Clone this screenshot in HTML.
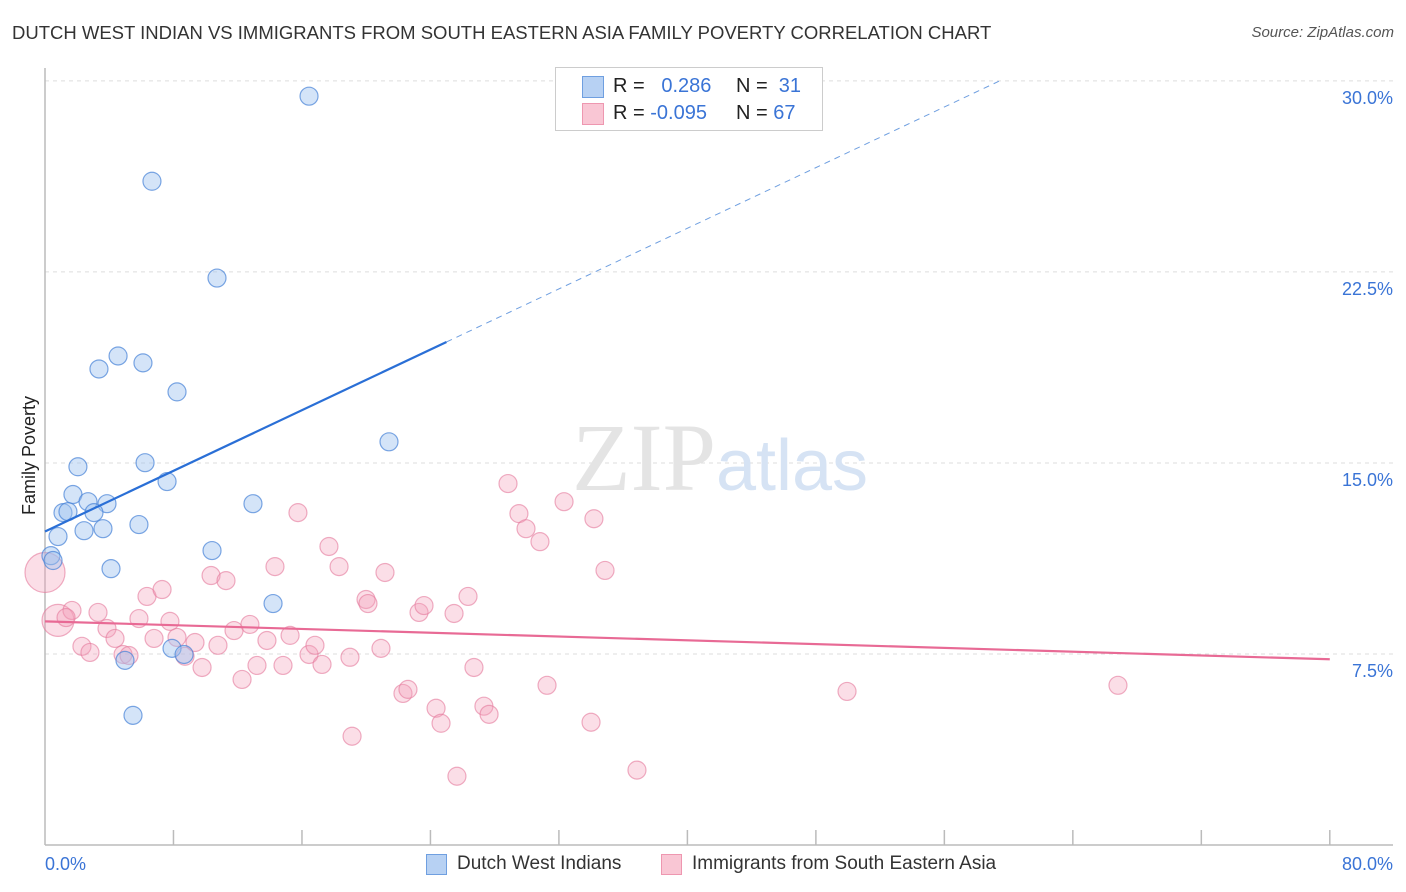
<!DOCTYPE html>
<html><head><meta charset="utf-8">
<style>
body{margin:0;background:#fff;font-family:"Liberation Sans",sans-serif;}
#wrap{position:relative;width:1406px;height:892px;overflow:hidden;}
.t{position:absolute;white-space:nowrap;}
</style></head><body>
<div id="wrap">
<div class="t" style="left:12px;top:22px;font-size:18.5px;color:#333;">DUTCH WEST INDIAN VS IMMIGRANTS FROM SOUTH EASTERN ASIA FAMILY POVERTY CORRELATION CHART</div>
<div class="t" style="right:12px;top:24px;font-size:15px;color:#555;font-style:italic;">Source: ZipAtlas.com</div>
<div class="t" style="left:-30px;top:445px;font-size:18px;color:#222;transform:rotate(-90deg);">Family Poverty</div>
<svg id="svg" width="1406" height="892" style="position:absolute;left:0;top:0"></svg>
<div style="position:absolute;left:555px;top:67px;width:266px;height:62px;border:1px solid #ccc;background:#fff;">
  <div style="position:absolute;left:26px;top:8px;width:20px;height:20px;background:#b7d1f3;border:1px solid #6f9fe0;"></div>
  <div style="position:absolute;left:26px;top:35px;width:20px;height:20px;background:#f9c6d4;border:1px solid #ee97b0;"></div>
  <div class="t" style="left:57px;top:7px;font-size:20px;color:#222;">R = &nbsp;&nbsp;<span style="color:#3a74d6">0.286</span></div>
  <div class="t" style="left:57px;top:34px;font-size:20px;color:#222;">R = <span style="color:#3a74d6">-0.095</span></div>
  <div class="t" style="left:180px;top:7px;font-size:20px;color:#222;">N = &nbsp;<span style="color:#3a74d6">31</span></div>
  <div class="t" style="left:180px;top:34px;font-size:20px;color:#222;">N = <span style="color:#3a74d6">67</span></div>
</div>
<div style="position:absolute;left:426px;top:854px;width:19px;height:19px;background:#b7d1f3;border:1px solid #6f9fe0;"></div>
<div class="t" style="left:457px;top:853px;font-size:19px;color:#333;">Dutch West Indians</div>
<div style="position:absolute;left:661px;top:854px;width:19px;height:19px;background:#f9c6d4;border:1px solid #ee97b0;"></div>
<div class="t" style="left:692px;top:853px;font-size:19px;color:#333;">Immigrants from South Eastern Asia</div>
</div>
<script>
const xTickLabels=["0.0%","80.0%"];
const yTicks=[7.5,15,22.5,30];
const yTickLabels=["7.5%","15.0%","22.5%","30.0%"];
const blueX=[16.44,6.66,10.71,4.55,3.36,6.10,8.22,21.42,2.05,6.23,7.60,1.74,2.68,3.86,12.95,1.12,1.43,3.05,5.85,2.43,3.61,0.81,0.37,0.50,10.40,4.11,14.20,7.91,8.66,4.98,5.48];
const blueY=[29.40,26.06,22.26,19.20,18.69,18.93,17.79,15.83,14.85,15.01,14.27,13.76,13.48,13.40,13.40,13.05,13.09,13.05,12.58,12.34,12.42,12.11,11.36,11.17,11.56,10.85,9.48,7.72,7.48,7.25,5.09];
const pinkX=[0,0.81,1.68,1.31,2.30,2.80,3.30,3.86,4.36,4.86,5.23,5.85,6.35,6.79,7.29,7.78,8.22,8.72,9.34,9.78,10.34,10.77,11.27,11.77,12.27,12.76,13.20,13.82,14.32,14.82,15.26,15.75,16.44,16.81,17.25,17.68,18.31,18.99,19.12,19.99,20.11,20.92,21.17,22.29,22.60,23.29,23.60,24.35,24.66,25.47,25.65,26.34,26.71,27.33,27.65,28.83,29.51,29.95,30.82,31.26,32.32,34.00,34.18,34.87,36.86,49.94,66.81];
const pinkY=[10.70,8.82,9.21,8.93,7.80,7.56,9.13,8.50,8.11,7.48,7.44,8.89,9.76,8.11,10.03,8.78,8.15,7.41,7.95,6.97,10.58,7.84,10.38,8.42,6.50,8.66,7.05,8.03,10.93,7.05,8.23,13.05,7.48,7.84,7.09,11.72,10.93,7.37,4.27,9.64,9.48,7.72,10.70,5.95,6.11,9.13,9.40,5.37,4.78,9.09,2.70,9.76,6.97,5.45,5.13,14.19,13.01,12.42,11.91,6.27,13.48,4.82,12.81,10.78,2.94,6.03,6.27];
const pinkBig=[20,16];
const blueTrend=[12.31,0.2976];
const pinkTrend=[8.78,-0.0186];

const X=v=>45+v*16.06, Y=v=>845-v*25.47;
const svg=document.getElementById('svg');const NS='http://www.w3.org/2000/svg';
function mk(tag,at){const e=document.createElementNS(NS,tag);for(const k in at)e.setAttribute(k,at[k]);svg.appendChild(e);return e;}
yTicks.forEach((t,i)=>{
 const g=mk('line',{x1:45,x2:1393,y1:Y(t),y2:Y(t),stroke:'#ddd','stroke-dasharray':'4,4'});
 
 
 const tx=mk('text',{x:1393,y:Y(t)+23,'text-anchor':'end','font-size':18,fill:'#3a74d6','font-family':'Liberation Sans, sans-serif'});
 tx.textContent=yTickLabels[i];
 
 
});
const ya=mk('line',{x1:45,x2:45,y1:68,y2:845,stroke:'#bbb','stroke-width':1.5});


const xa=mk('line',{x1:45,x2:1393,y1:845,y2:845,stroke:'#bbb','stroke-width':1.5});


for(let i=1;i<=10;i++){const tk=mk('line',{x1:X(i*8),x2:X(i*8),y1:830,y2:845,stroke:'#bbb','stroke-width':1.5});
 
 }
[[0,'start',45],[1,'end',1393]].forEach(([i,a,x])=>{const tx=mk('text',{x:x,y:870,'text-anchor':a,'font-size':18,fill:'#3a74d6','font-family':'Liberation Sans, sans-serif'});tx.textContent=xTickLabels[i];
 
 });
const wm=mk('text',{x:720,y:490,'text-anchor':'middle','font-size':96,fill:'#e4e4e4','font-family':'Liberation Serif, serif'});
wm.innerHTML='ZIP<tspan fill="#d6e3f4" font-family="Liberation Sans, sans-serif" font-size="72">atlas</tspan>';


pinkX.forEach((v,i)=>{const c=mk('circle',{cx:X(v),cy:Y(pinkY[i]),r:pinkBig[i]||9,fill:'rgba(244,160,186,0.35)',stroke:'rgba(228,120,155,0.6)','stroke-width':1.2});
 
 });
blueX.forEach((v,i)=>{const c=mk('circle',{cx:X(v),cy:Y(blueY[i]),r:9,fill:'rgba(160,196,240,0.45)',stroke:'rgba(70,130,215,0.7)','stroke-width':1.2});
 
 });
const bt=mk('line',{x1:X(0),y1:Y(blueTrend[0]),x2:X(25),y2:Y(blueTrend[0]+blueTrend[1]*25),stroke:'#2a6fd6','stroke-width':2.2});


const bd=mk('line',{x1:X(25),y1:Y(blueTrend[0]+blueTrend[1]*25),x2:X(59.4),y2:Y(blueTrend[0]+blueTrend[1]*59.4),stroke:'#6f9fe0','stroke-width':1,'stroke-dasharray':'6,5'});


const pt=mk('line',{x1:X(0),y1:Y(pinkTrend[0]),x2:X(80),y2:Y(pinkTrend[0]+pinkTrend[1]*80),stroke:'#e86a95','stroke-width':2.2});


</script>
</body></html>
